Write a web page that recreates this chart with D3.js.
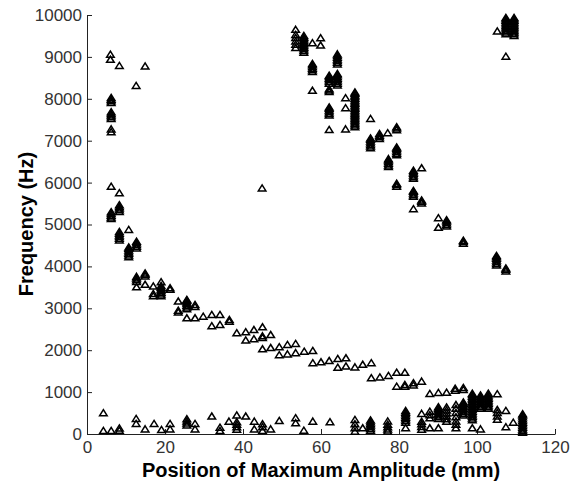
<!DOCTYPE html>
<html>
<head>
<meta charset="utf-8">
<script src="https://cdn.jsdelivr.net/npm/d3@7"></script>
<style>
  body { margin: 0; background: #fff; }
  text { font-family: "Liberation Sans", Arial, sans-serif; }
</style>
</head>
<body>
<div id="chart"></div>
<script>
// each entry: [position (mm), [frequencies (Hz) found at that position]]
var lowBranch = [
  [6.0, [9050, 8930]], [8.3, [8785]], [12.6, [8307]], [14.9, [8770]],
  [6.2, [7900, 7940, 7980, 8020]], [6.2, [7520, 7560, 7600, 7640, 7680]], [6.2, [7200, 7270]],
  [6.2, [5900]], [8.3, [5745]],
  [6.2, [5130, 5170, 5210, 5250, 5290]], [8.3, [5300, 5340, 5380, 5420, 5460]],
  [10.7, [4870]], [8.3, [4620, 4660, 4700, 4740, 4780, 4820]],
  [10.7, [4220, 4260, 4300, 4340, 4380, 4420, 4450]], [12.7, [4430, 4470, 4510, 4550, 4590]],
  [12.7, [3500, 3630, 3670, 3710, 3750]], [14.9, [3560, 3760, 3800, 3830]],
  [17.0, [3290, 3340, 3520]], [19.0, [3290, 3330, 3370, 3410, 3450, 3490, 3530, 3620]],
  [21.3, [3440, 3480]], [23.4, [2900, 2940, 3160]],
  [25.6, [2760, 2980, 3020, 3060, 3100, 3140, 3180, 3200]], [27.7, [2760, 3030, 3080]],
  [29.8, [2800]], [32.0, [2570, 2840]], [34.1, [2600, 2840]], [36.5, [2680, 2720]],
  [38.4, [2404]], [40.7, [2230, 2427]], [42.8, [2260, 2480]],
  [45.0, [2020, 2290, 2330, 2545]], [47.1, [2050, 2360]],
  [49.3, [1880, 2070]], [51.4, [1900, 2125]], [53.5, [1930, 2150]],
  [55.7, [1965]], [57.9, [1690, 1980]], [60.0, [1710]], [62.1, [1740]],
  [64.3, [1580, 1790]], [66.4, [1610, 1805]], [68.7, [1590]], [70.7, [1650]],
  [72.9, [1330, 1690]], [75.1, [1350]], [77.3, [1385]], [79.4, [1130, 1460]],
  [81.5, [1130, 1170, 1460]], [83.7, [1160, 1210]], [85.8, [1250]],
  [87.9, [955]], [90.1, [980]], [92.2, [985]], [94.4, [1035, 1080]],
  [96.5, [1050, 1100]], [105.2, [950]], [44.9, [5860]]
];

var floorPoints = [
  [4.2, [70, 495]], [6.2, [70]], [8.3, [80, 130]], [12.6, [240, 360]],
  [14.9, [110]], [17.2, [240]], [19.1, [95]], [21.3, [110, 240]],
  [25.6, [200, 250, 300, 350]], [27.7, [110, 240]], [32.0, [415]],
  [34.1, [70, 150]], [36.4, [295]], [38.4, [100, 160, 220, 280, 440]],
  [40.7, [415]], [42.9, [110, 295]], [45.0, [70, 160, 230]], [47.1, [110]],
  [49.3, [310]], [53.5, [255, 375]], [55.6, [80]], [57.9, [295]], [62.3, [280]],
  [68.7, [55, 140, 230, 335]], [70.7, [135]],
  [72.7, [80, 120, 160, 200, 240, 280, 320]], [77.1, [60, 110, 160, 220, 300]],
  [81.7, [140, 270, 310, 350, 390, 430, 470, 510, 550]], [85.8, [100, 170, 230, 290, 480]],
  [87.9, [135, 375, 450, 530]], [90.1, [135, 360, 400, 440, 480, 520, 560, 600, 640]],
  [92.2, [290, 350, 420, 490, 560, 630]], [94.6, [135, 220, 300, 400, 500, 600, 690]],
  [96.5, [440, 480, 520, 560, 600, 640, 680, 720, 750]],
  [98.8, [135, 330, 370, 410, 450, 490, 530, 570, 610, 650, 690, 730, 770, 810, 850, 890, 930, 960]],
  [100.9, [110, 600, 640, 680, 720, 760, 800, 840, 880, 920]],
  [102.9, [600, 640, 680, 720, 760, 800, 840, 880, 920, 960]],
  [105.2, [340, 420, 500, 570]], [107.4, [160, 550]], [109.3, [270]],
  [111.7, [30, 70, 110, 150, 190, 230, 270, 310, 350, 400, 440, 470]]
];

var highBranch = [
  [53.5, [9210, 9290, 9370, 9450, 9525, 9645]],
  [55.6, [9100, 9140, 9180, 9220, 9260, 9300, 9340, 9380, 9420, 9460, 9500]],
  [57.8, [9325]], [59.9, [9270, 9445]],
  [64.2, [8820, 8860, 8900, 8940, 8980, 9020, 9060]],
  [57.8, [8640, 8680, 8720, 8760, 8800, 8830]], [62.1, [8360, 8400, 8440, 8480, 8520, 8550]],
  [64.2, [8320, 8360, 8400, 8440, 8480, 8520, 8560, 8590]], [57.8, [8190]], [62.1, [8160, 8200, 8230]],
  [62.1, [7600, 7640, 7680, 7720, 7760, 7790]], [62.1, [7255]], [66.3, [7270, 7775, 8015]],
  [68.7, [7320, 7360, 7400, 7440, 7480, 7520, 7560, 7600, 7640, 7680, 7720,
          7760, 7800, 7840, 7880, 7920, 7960, 8000, 8040, 8080, 8120, 8150]],
  [72.7, [6820, 6860, 6900, 6940, 6980, 7020, 7050, 7520]], [75.0, [7040, 7080, 7120, 7160]],
  [77.1, [7180]], [79.4, [7250, 7290, 7320]], [79.4, [6650, 6690, 6730, 6770, 6810, 6840]],
  [77.3, [6370, 6410, 6450, 6490, 6530, 6560]], [79.4, [5900, 5940, 5970]],
  [83.7, [6090, 6130, 6170, 6210, 6250, 6280]], [85.8, [6340]],
  [83.7, [5365, 5660, 5700, 5740, 5780, 5800]], [85.8, [5500, 5540, 5570]],
  [90.1, [4920, 5150]], [92.2, [4950, 4990, 5030, 5070, 5100]], [96.5, [4540, 4580, 4610]],
  [105.0, [4020, 4060, 4100, 4140, 4180, 4220, 4250]], [107.4, [3880, 3920, 3950]],
  [105.2, [9605]], [107.4, [9005]],
  [107.4, [9540, 9580, 9620, 9660, 9700, 9740, 9780, 9820, 9860, 9900, 9930]],
  [109.5, [9500, 9540, 9580, 9620, 9660, 9700, 9740, 9780, 9820, 9860, 9900, 9930]]
];

var xTicks = [0, 20, 40, 60, 80, 100, 120];
var yTicks = [0, 1000, 2000, 3000, 4000, 5000, 6000, 7000, 8000, 9000, 10000];

var W = 571, H = 481;
var x = d3.scaleLinear().domain([0, 120]).range([87, 555]);
var y = d3.scaleLinear().domain([0, 10000]).range([434, 15]);

var svg = d3.select("#chart").append("svg")
    .attr("width", W)
    .attr("height", H)
    .style("background", "#fff");

// flatten groups to points
var points = [];
[lowBranch, floorPoints, highBranch].forEach(function(set) {
  set.forEach(function(g) {
    g[1].forEach(function(f) { points.push({pos: g[0], freq: f}); });
  });
});

// axes, ticks pointing inward
var xAxis = d3.axisBottom(x).tickValues(xTicks).tickFormat(d3.format("d"))
    .tickSizeInner(-5).tickSizeOuter(0).tickPadding(7);
var yAxis = d3.axisLeft(y).tickValues(yTicks).tickFormat(d3.format("d"))
    .tickSizeInner(-5).tickSizeOuter(0).tickPadding(5);

var gx = svg.append("g").attr("transform", "translate(0,434)").call(xAxis);
var gy = svg.append("g").attr("transform", "translate(87,0)").call(yAxis);

[gx, gy].forEach(function(g) {
  g.selectAll("text")
    .style("font-size", "17px")
    .style("font-family", "'Liberation Sans', Arial, sans-serif")
    .attr("fill", "#333");
  g.select(".domain").attr("stroke", "#222");
  g.selectAll(".tick line").attr("stroke", "#222");
});

// markers: outline triangles
var tri = "M0,-3.6L3.8,2.5L-3.8,2.5Z";
svg.append("g").selectAll("path.pt")
    .data(points)
    .enter()
    .append("path")
    .attr("class", "pt")
    .attr("transform", function(d) { return "translate(" + x(d.pos) + "," + y(d.freq) + ")"; })
    .attr("d", tri)
    .attr("fill", "none")
    .attr("stroke", "#000")
    .attr("stroke-width", 1.5);

// axis titles
svg.append("text")
    .attr("x", 321)
    .attr("y", 477)
    .attr("text-anchor", "middle")
    .style("font-size", "20px")
    .style("font-weight", "bold")
    .text("Position of Maximum Amplitude (mm)");

svg.append("text")
    .attr("transform", "translate(33,224) rotate(-90)")
    .attr("text-anchor", "middle")
    .style("font-size", "20px")
    .style("font-weight", "bold")
    .text("Frequency (Hz)");
</script>
</body>
</html>
